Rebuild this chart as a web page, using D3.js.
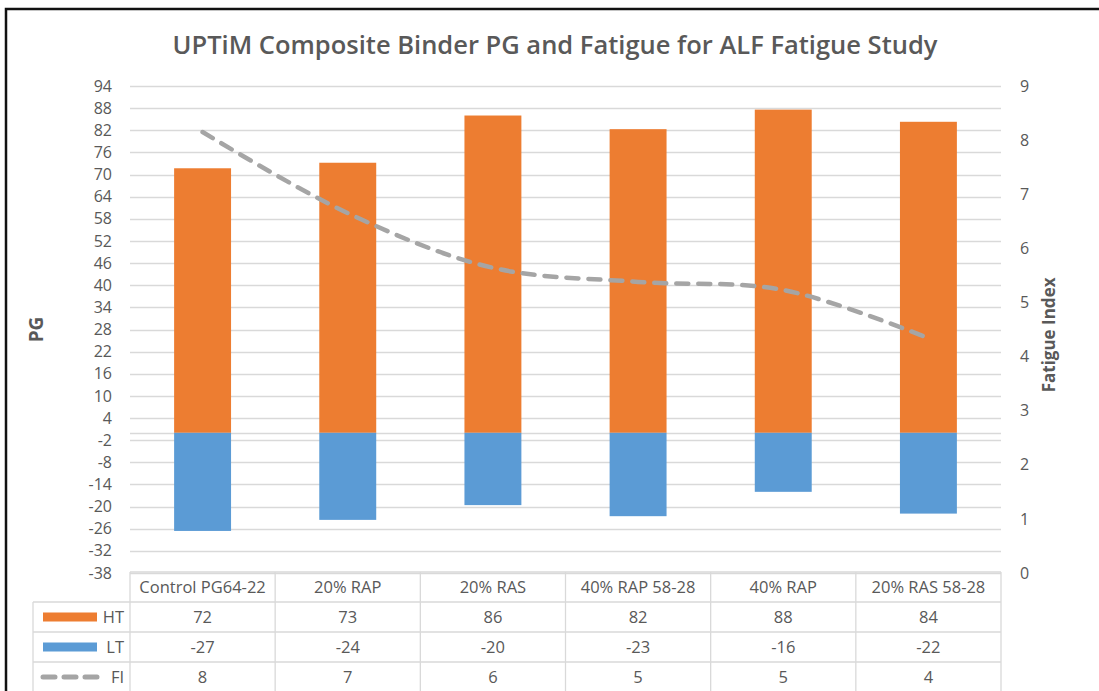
<!DOCTYPE html>
<html><head><meta charset="utf-8">
<script src="https://cdn.jsdelivr.net/npm/d3@7"></script>
<style>
html,body{margin:0;padding:0;background:#fff;}
svg{display:block;font-family:"Open Sans","Noto Sans",sans-serif;}
</style></head>
<body>
<svg id="chart" width="1099" height="691"></svg>
<script>
const categories = ["Control PG64-22","20% RAP","20% RAS","40% RAP 58-28","40% RAP","20% RAS 58-28"];
const htValues = [71.7, 73.2, 86.0, 82.3, 87.6, 84.3];
const ltValues = [-26.6, -23.6, -19.6, -22.6, -16.0, -21.9];
const fiValues = [8.15, 6.65, 5.64, 5.38, 5.23, 4.34];
const leftTicks = d3.range(-38, 95, 6);
const rightTicks = d3.range(0, 10, 1);
const seriesNames = ["HT","LT","FI"];
const title = "UPTiM Composite Binder PG and Fatigue for ALF Fatigue Study";

const svg = d3.select("#chart");
const textCol = "#595959", gridCol = "#d9d9d9";
const orange = "#ED7D31", blue = "#5B9BD5", grey = "#A5A5A5";
const fmt = d => d3.format(".0f")(d).replace("\u2212","-");

// outer border
svg.append("rect").attr("x",6).attr("y",9).attr("width",1200).attr("height",800)
  .attr("fill","none").attr("stroke","#111").attr("stroke-width",2.5);

svg.append("text").attr("x",555).attr("y",54).attr("text-anchor","middle")
  .attr("font-size",25.5).attr("font-weight",600).attr("fill",textCol).text(title);

const x0 = 130, x1 = 1001, yTop = 86, yBot = 573;
const yL = d3.scaleLinear().domain([-38,94]).range([yBot,yTop]);
const yR = d3.scaleLinear().domain([0,9]).range([yBot,yTop]);
const xb = d3.scaleBand().domain(categories).range([x0,x1]).paddingInner(0.6078).paddingOuter(0.3039);
const xc = d3.scaleBand().domain(categories).range([x0,x1]);

// gridlines
svg.append("g").selectAll("line").data(leftTicks).join("line")
  .attr("x1",x0).attr("x2",x1).attr("y1",d=>Math.round(yL(d))+0.5).attr("y2",d=>Math.round(yL(d))+0.5)
  .attr("stroke",gridCol).attr("stroke-width",1.3);
svg.append("line").attr("x1",x0).attr("x2",x1).attr("y1",Math.round(yL(0))+0.5).attr("y2",Math.round(yL(0))+0.5)
  .attr("stroke",gridCol).attr("stroke-width",1.3);

// left axis
const gL = svg.append("g").attr("transform",`translate(${x0-18},0)`)
  .call(d3.axisLeft(yL).tickValues(leftTicks).tickSize(0).tickPadding(0).tickFormat(fmt));
gL.select(".domain").remove();
gL.selectAll("text").attr("font-size",16).attr("fill",textCol).attr("font-family","'Open Sans',sans-serif");

// right axis
const gR = svg.append("g").attr("transform",`translate(${x1+19},0)`)
  .call(d3.axisRight(yR).tickValues(rightTicks).tickSize(0).tickPadding(0).tickFormat(fmt));
gR.select(".domain").remove();
gR.selectAll("text").attr("font-size",16).attr("fill",textCol).attr("font-family","'Open Sans',sans-serif");

// axis titles
svg.append("text").attr("transform",`translate(43,${yL(28)}) rotate(-90)`).attr("text-anchor","middle")
  .attr("font-size",19).attr("font-weight",700).attr("fill",textCol).text("PG");
svg.append("text").attr("transform",`translate(1055,${yR(4.4)}) rotate(-90)`).attr("text-anchor","middle")
  .attr("font-size",17).attr("font-weight",700).attr("fill",textCol).text("Fatigue Index");

// bars
svg.append("g").selectAll("rect").data(htValues).join("rect")
  .attr("x",(d,i)=>xb(categories[i])).attr("width",xb.bandwidth())
  .attr("y",d=>yL(d)).attr("height",d=>yL(0)-yL(d)).attr("fill",orange);
svg.append("g").selectAll("rect").data(ltValues).join("rect")
  .attr("x",(d,i)=>xb(categories[i])).attr("width",xb.bandwidth())
  .attr("y",yL(0)).attr("height",d=>yL(d)-yL(0)).attr("fill",blue);

// FI line
const line = d3.line().x((d,i)=>xc(categories[i])+xc.bandwidth()/2).y(d=>yR(d))
  .curve(d3.curveCatmullRom.alpha(0.5));
svg.append("path").datum(fiValues).attr("d",line).attr("fill","none")
  .attr("stroke",grey).attr("stroke-width",4.5).attr("stroke-dasharray","12,10").attr("stroke-linecap","round");

// data table
const rowH = 30, tTop = yBot - 1, legX = 33;
const tg = svg.append("g");
const lineStyle = s => s.attr("stroke",gridCol).attr("stroke-width",1.3);
lineStyle(tg.append("line").attr("x1",x0).attr("x2",x1).attr("y1",tTop).attr("y2",tTop));
[1,2,3].forEach(r=>lineStyle(tg.append("line").attr("x1",legX).attr("x2",x1).attr("y1",tTop+r*rowH).attr("y2",tTop+r*rowH)));
lineStyle(tg.append("line").attr("x1",legX).attr("x2",legX).attr("y1",tTop+rowH).attr("y2",700));
categories.forEach(c=>lineStyle(tg.append("line").attr("x1",xc(c)).attr("x2",xc(c)).attr("y1",tTop).attr("y2",700)));
lineStyle(tg.append("line").attr("x1",x1).attr("x2",x1).attr("y1",tTop).attr("y2",700));

tg.selectAll("text.cat").data(categories).join("text").attr("class","cat")
  .attr("x",d=>xc(d)+xc.bandwidth()/2).attr("y",tTop+rowH/2+6).attr("text-anchor","middle")
  .attr("font-size",16.5).attr("fill",textCol).text(d=>d);
const rows = [htValues, ltValues, fiValues];
rows.forEach((vals,r)=>{
  tg.selectAll(`text.v${r}`).data(vals).join("text").attr("class",`v${r}`)
    .attr("x",(d,i)=>xc(categories[i])+xc.bandwidth()/2).attr("y",tTop+(r+1)*rowH+rowH/2+6)
    .attr("text-anchor","middle").attr("font-size",16.5).attr("fill",textCol).text(d=>fmt(d));
  tg.append("text").attr("x",x0-6).attr("y",tTop+(r+1)*rowH+rowH/2+6).attr("text-anchor","end")
    .attr("font-size",16.5).attr("fill",textCol).text(seriesNames[r]);
});
const ky = r => tTop+(r+1)*rowH+rowH/2;
tg.append("rect").attr("x",43).attr("y",ky(0)-4.5).attr("width",54).attr("height",9).attr("fill",orange);
tg.append("rect").attr("x",43).attr("y",ky(1)-4.5).attr("width",54).attr("height",9).attr("fill",blue);
tg.append("line").attr("x1",43).attr("x2",97).attr("y1",ky(2)).attr("y2",ky(2))
  .attr("stroke",grey).attr("stroke-width",5).attr("stroke-dasharray","12,9").attr("stroke-linecap","round");
</script>
</body></html>
